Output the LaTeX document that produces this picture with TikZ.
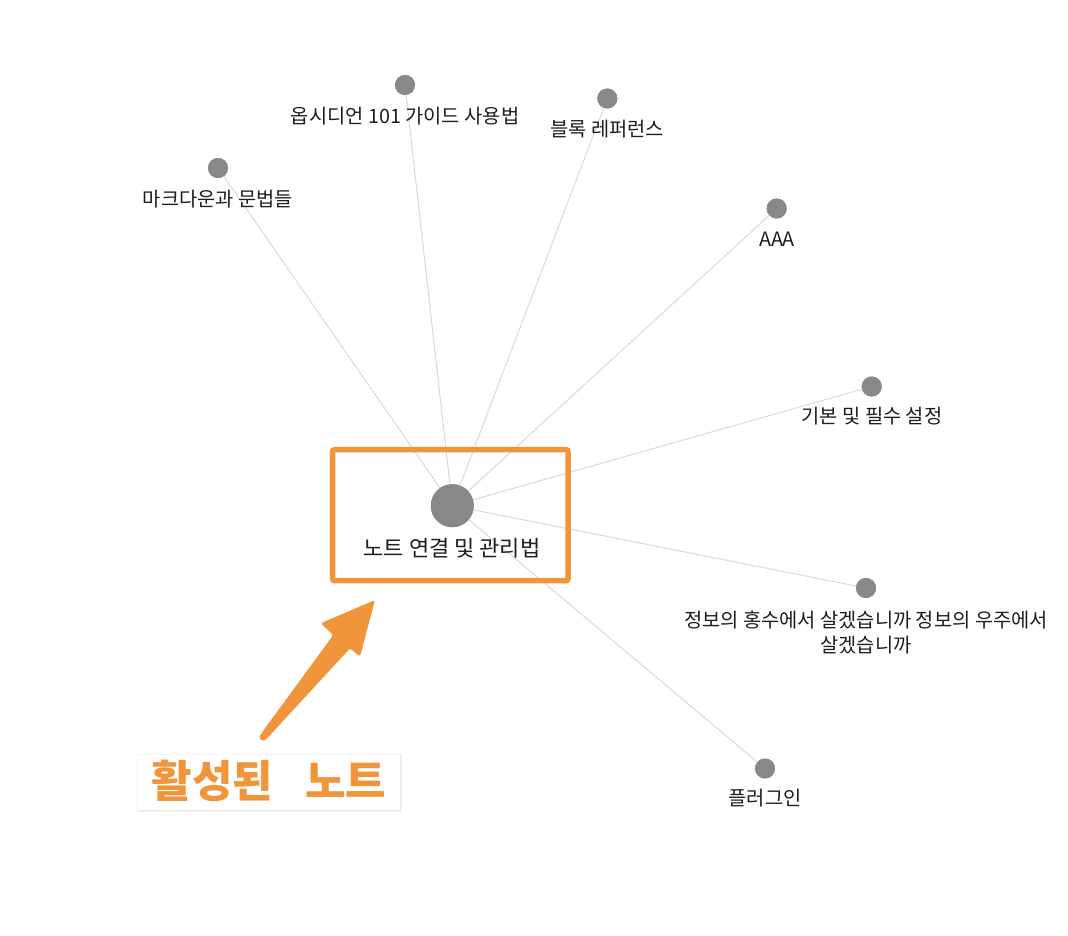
\documentclass[tikz,border=0pt]{standalone}
\usepackage{fontspec}
\setmainfont{Noto Sans CJK KR}
\definecolor{orng}{HTML}{F0953A}
\definecolor{dotgray}{HTML}{888888}
\definecolor{edgegray}{HTML}{DADADA}
\definecolor{txt}{HTML}{1E1E1E}
\tikzset{
  dot/.style={circle,fill=dotgray,inner sep=0pt,minimum size=20pt},
  bigdot/.style={circle,fill=dotgray,inner sep=0pt,minimum size=43pt},
  edge/.style={draw=edgegray,line width=1pt},
  lbl/.style={text=txt,inner sep=0pt,font=\fontsize{19.8}{25}\selectfont,align=center},
  clbl/.style={text=txt,inner sep=0pt,font=\fontsize{22}{25}\selectfont},
}
\begin{document}
\begin{tikzpicture}[x=1pt,y=-1pt]
\useasboundingbox (0,0) rectangle (1068,936);
\fill[white] (0,0) rectangle (1068,936);
% nodes
\node[bigdot] (c) at (452.3,505.7) {};
\node[dot] (n1) at (405,85) {};
\node[dot] (n2) at (607.3,98.5) {};
\node[dot] (n3) at (218,168) {};
\node[dot] (n4) at (776.7,208.5) {};
\node[dot] (n5) at (871.7,386.5) {};
\node[dot] (n6) at (866,588) {};
\node[dot] (n7) at (765,768.5) {};
% edges
\foreach \n in {n1,n2,n3,n4,n5,n6,n7} \draw[edge] (c.center) -- (\n.center);
% redraw dots on top
\node[bigdot] at (452.3,505.7) {};
\foreach \p in {(405,85),(607.3,98.5),(218,168),(776.7,208.5),(871.7,386.5),(866,588),(765,768.5)}
  \node[dot] at \p {};
% labels
\node[clbl] (lc) at (452,548.5) {노트 연결 및 관리법};
\node[lbl] (l1) at (405,116) {옵시디언 101 가이드 사용법};
\node[lbl] (l2) at (607,129.5) {블록 레퍼런스};
\node[lbl] (l3) at (218,199) {마크다운과 문법들};
\node[lbl] (l4) at (777,239.5) {AAA};
\node[lbl] (l5) at (872,416.5) {기본 및 필수 설정};
\node[lbl] (l6) at (866,632.5) {정보의 홍수에서 살겠습니까 정보의 우주에서\\살겠습니까};
\node[lbl] (l7) at (765,798.5) {플러그인};
% highlight box
\draw[orng,line width=5.5pt,rounded corners=2pt] (332.5,449.7) rectangle (568,580.7);
% arrow
\fill[orng,rounded corners=2.5pt] (260.5,734.5) -- (333.3,635) -- (320.7,623.3) -- (375,600)
  -- (360,656.7) -- (350,648.3) -- (266,739.5) -- cycle;
\fill[orng] (263.2,737) circle (3.6);
% label box
\fill[black,opacity=0.04] (136.5,754) rectangle (401.5,812);
\fill[black,opacity=0.05] (137.5,755) rectangle (400.5,811);
\node[fill=white,minimum width=262pt,minimum height=55pt,inner sep=0pt] (ab) at (269,782) {};
\node[text=orng,inner sep=0pt,font=\fontsize{44}{50}\selectfont\bfseries] (at) at (269,781) {활성된\ \ \hspace{12pt}노트};
\end{tikzpicture}
\end{document}
